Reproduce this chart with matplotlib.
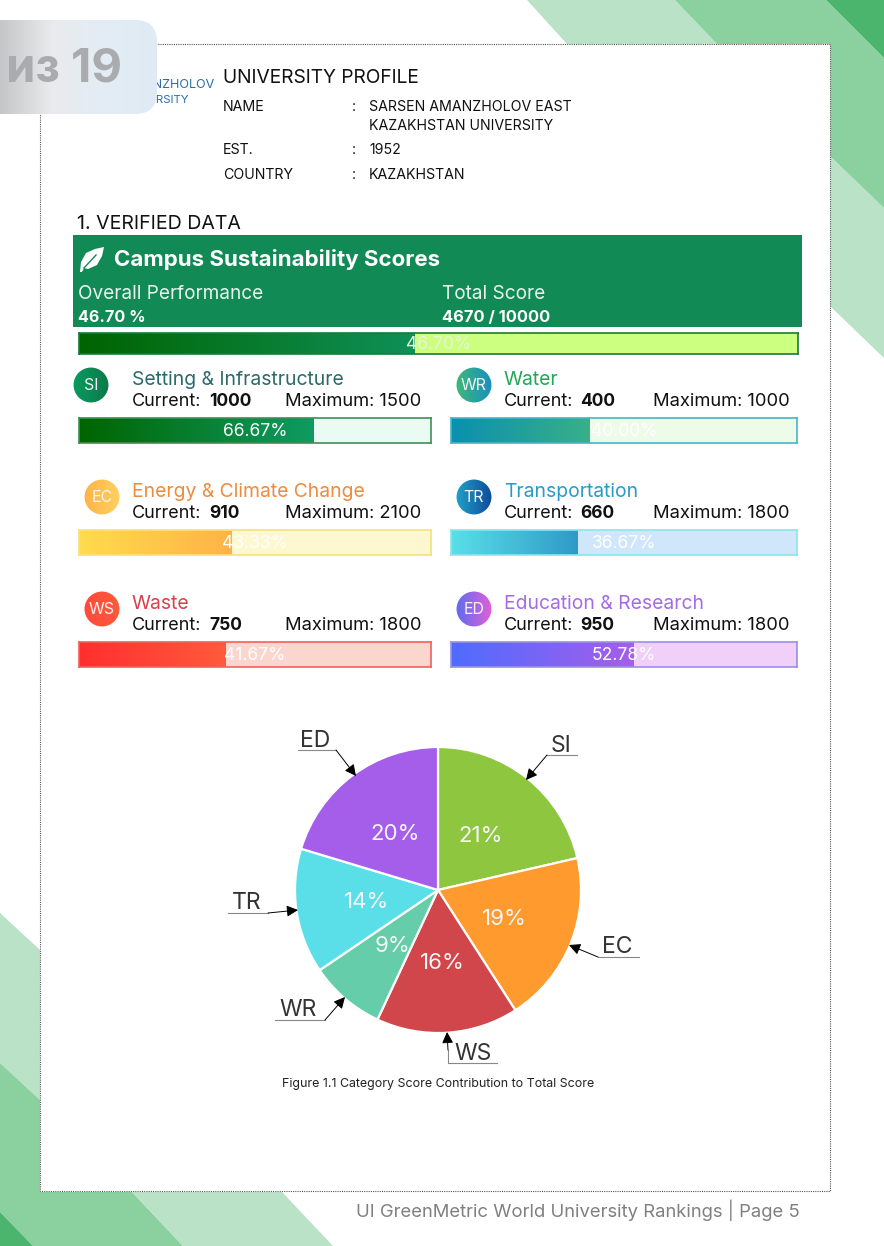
import numpy as np
import matplotlib
matplotlib.use("Agg")
import matplotlib.pyplot as plt
from matplotlib.colors import LinearSegmentedColormap
from matplotlib.patches import Circle, FancyBboxPatch, Polygon, Rectangle

# scores per category
codes = ["SI", "WR", "EC", "TR", "WS", "ED"]
names = ["Setting & Infrastructure", "Water", "Energy & Climate Change",
         "Transportation", "Waste", "Education & Research"]
current = [1000, 400, 910, 660, 750, 950]
maximum = [1500, 1000, 2100, 1800, 1800, 1800]
percents = ["66.67%", "40.00%", "43.33%", "36.67%", "41.67%", "52.78%"]

# pie, clockwise from the top
pie_labels = ["SI", "EC", "WS", "WR", "TR", "ED"]
pie_values = [1000, 910, 750, 400, 660, 950]
pie_percents = ["21%", "19%", "16%", "9%", "14%", "20%"]
pie_colors = ["#8ec63f", "#ff9a2f", "#d0464a", "#66cdaa", "#5adfe8", "#a55eea"]

overall_current = 4670
overall_max = 10000

W, H = 884, 1246
plt.rcParams["font.family"] = ["Inter", "DejaVu Sans"]
fig = plt.figure(figsize=(W / 100, H / 100), dpi=100)
bg = fig.add_axes([0, 0, 1, 1])
bg.set_xlim(0, W)
bg.set_ylim(H, 0)
bg.axis("off")
bg.set_zorder(-1)


def txt(x, y, s, size, color="#111111", weight="normal", ha="left", zorder=5):
    bg.text(x, y + 2, s, fontsize=size * 0.72, color=color, weight=weight, ha=ha, va="center", zorder=zorder)


def bar_axes(x, y, w, h):
    return fig.add_axes([x / W, 1 - (y + h) / H, w / W, h / H])


def draw_bar(x, y, w, h, val, top, c1, c2, back, edge, label, label_color="white"):
    ax = bar_axes(x, y, w, h)
    ax.set_xlim(0, top)
    ax.set_ylim(0, 1)
    ax.set_xticks([])
    ax.set_yticks([])
    ax.set_facecolor(back)
    for s in ax.spines.values():
        s.set_color(edge)
        s.set_linewidth(1.2)
    cmap = LinearSegmentedColormap.from_list("g", [c1, c2])
    ax.imshow(np.linspace(0, 1, 256).reshape(1, -1), cmap=cmap, extent=(0, val, 0, 1), aspect="auto")
    ax.set_xlim(0, top)
    ax.set_ylim(0, 1)
    ax.text(0.5, 0.47, label, transform=ax.transAxes, color=label_color, ha="center", va="center", fontsize=12.6)


# green corner shapes
light = "#b9e2c6"
mid = "#8bd09f"
dark = "#4bb56e"
shapes = [
    ([(527, 0), (675, 0), (717, 44), (567, 44)], light),
    ([(830, 156), (884, 208), (884, 358), (830, 306)], light),
    ([(675, 0), (826, 0), (884, 58), (884, 208), (830, 156), (830, 44), (717, 44)], mid),
    ([(826, 0), (884, 0), (884, 58)], dark),
    ([(0, 913), (40, 950), (40, 1100), (0, 1063)], light),
    ([(0, 1063), (40, 1100), (40, 1192), (132, 1192), (183, 1246), (33, 1246), (0, 1212)], mid),
    ([(0, 1212), (33, 1246), (0, 1246)], dark),
    ([(132, 1192), (282, 1192), (333, 1246), (183, 1246)], light),
]
for pts, col in shapes:
    bg.add_patch(Polygon(pts, closed=True, facecolor=col, edgecolor="none", zorder=1))

# page with dotted border
bg.add_patch(Rectangle((40, 44), 790, 1147, facecolor="white", edgecolor="#555555", lw=0.8, ls=(0, (1, 1)), zorder=2))

# profile block
txt(215, 83, "ANZHOLOV", 12.5, "#2b6ea8", ha="right", zorder=3)
txt(189, 98, "UNIVERSITY", 11.5, "#2b6ea8", ha="right", zorder=3)
txt(223, 76, "UNIVERSITY PROFILE", 19.2)
txt(223, 105, "NAME", 14.2)
txt(352, 105, ":", 14.2)
txt(369, 105, "SARSEN AMANZHOLOV EAST", 14.2)
txt(369, 124, "KAZAKHSTAN UNIVERSITY", 14.2)
txt(223, 148, "EST.", 14.2)
txt(352, 148, ":", 14.2)
txt(369, 148, "1952", 14.2)
txt(223, 173, "COUNTRY", 14.2)
txt(352, 173, ":", 14.2)
txt(369, 173, "KAZAKHSTAN", 14.2)

# overlay badge
badge = bar_axes(0, 20, 157, 94)
badge.axis("off")
badge.set_xlim(0, 157)
badge.set_ylim(94, 0)
shape = FancyBboxPatch((-30, 0), 187, 94, boxstyle="round,pad=0,rounding_size=22", facecolor="none", edgecolor="none")
badge.add_patch(shape)
gcmap = LinearSegmentedColormap.from_list("badge", ["#c4c6c8", "#e9ebed", "#e3edf5", "#dfeaf4"])
im = badge.imshow(np.linspace(0, 1, 256).reshape(1, -1), cmap=gcmap, extent=(0, 157, 94, 0), aspect="auto")
im.set_clip_path(shape)
badge.text(6, 49, "из 19", fontsize=34, color="#a9abae", weight="bold", va="center")

# header
txt(77, 222, "1. VERIFIED DATA", 19.5)
bg.add_patch(Rectangle((73, 235), 729, 92, facecolor="#118a55", edgecolor="none", zorder=3))
leaf = [(80, 272), (81, 262), (86, 253), (95, 249), (104, 247), (102, 256), (97, 265), (88, 269), (84, 268), (82, 272)]
bg.add_patch(Polygon(leaf, closed=True, facecolor="white", edgecolor="none", zorder=4))
bg.plot([84, 96], [268, 255], color="#118a55", lw=1, zorder=4)
txt(114, 258, "Campus Sustainability Scores", 22.3, "white", "bold")
txt(78, 292, "Overall Performance", 19, "#e8f5ec")
txt(78, 315, "46.70 %", 16.2, "white", "bold")
txt(442, 292, "Total Score", 19, "#e8f5ec")
txt(442, 315, "4670 / 10000", 16.5, "white", "bold")

draw_bar(79, 333, 719, 21, overall_current, overall_max, "#006400", "#0f9058", "#ccff80", "#1a7a3a", "46.70%", "#e8f5d0")

# category cards
xs = [79, 451]
ws = [352, 346]
ys = [418, 530, 642]
card_styles = [
    ("#006400", "#0f9b63", "#e9fbf2", "#3f8f55", "#2a6a6a", "#0b9a5f", "#0a7a4a"),
    ("#0a90b0", "#38b088", "#edfbe9", "#45b5c5", "#1fa855", "#3cb878", "#1a8fc0"),
    ("#ffdb4d", "#ffb347", "#fdf8cf", "#f5e27a", "#f08a3c", "#ffb347", "#ffd060"),
    ("#5adfe8", "#2f9ac8", "#d0e6fa", "#8ae5ea", "#2a9ac8", "#20a0c8", "#0f4c9a"),
    ("#ff2f2f", "#ff5a3c", "#fbd6ce", "#f06060", "#d8404a", "#ff4a3a", "#ff5a3c"),
    ("#4f6cff", "#a55eea", "#f0d0f8", "#9a90e8", "#a56ae8", "#5f6cf0", "#e060d8"),
]
for i in range(6):
    col, row = i % 2, i // 2
    x, y = xs[col], ys[row]
    c1, c2, back, edge, title_col, circ1, circ2 = card_styles[i]
    draw_bar(x, y, ws[col], 25, current[i], maximum[i], c1, c2, back, edge, percents[i])
    tx = x + 53
    txt(tx, y - 40, names[i], 19.3, title_col)
    txt(tx, y - 18, "Current:", 18)
    txt(tx + 77 if col == 0 else tx - 1 + 77, y - 18, str(current[i]), 17.5, weight="bold")
    txt(x + 206 if col == 0 else x + 202, y - 18, "Maximum: %d" % maximum[i], 18.4)
    cx = x + (12 if i == 0 else 23)
    ca = bar_axes(cx - 18, y - 51, 36, 36)
    ca.axis("off")
    ca.set_xlim(-1, 1)
    ca.set_ylim(-1, 1)
    circ = Circle((0, 0), 0.97, transform=ca.transData, facecolor="none", edgecolor="none")
    ca.add_patch(circ)
    gc = LinearSegmentedColormap.from_list("c", [circ1, circ2])
    img = ca.imshow(np.linspace(0, 1, 64).reshape(1, -1), cmap=gc, extent=(-1, 1, -1, 1), aspect="auto")
    img.set_clip_path(circ)
    ca.text(0, -0.05, codes[i], color="#f4f4f4", ha="center", va="center", fontsize=11.5)

# pie
r = 143
cx, cy = 438, 890
pie_ax = bar_axes(cx - r, cy - r, 2 * r, 2 * r)
pie_ax.pie(pie_values, colors=pie_colors, startangle=90, counterclock=False, radius=1,
           wedgeprops={"edgecolor": "white", "linewidth": 1.6})
pie_ax.set_xlim(-1, 1)
pie_ax.set_ylim(-1, 1)

# percent labels and callouts sit over the pie
over = fig.add_axes([0, 0, 1, 1], facecolor="none")
over.set_xlim(0, W)
over.set_ylim(H, 0)
over.axis("off")
pct_xy = [(481, 836), (504, 919), (442, 963), (392, 946), (367, 902), (395, 834)]
for (px, py), s in zip(pct_xy, pie_percents):
    over.text(px, py, s, color="#f6f6f6", fontsize=16, ha="center", va="center")

callouts = [
    ((561, 746), (526, 780), [(577, 755), (547, 755)]),
    ((617, 947), (569, 945), [(639, 957), (598, 957)]),
    ((473, 1054), (447, 1032), [(497, 1063), (448, 1063), (448, 1050)]),
    ((298, 1010), (345, 997), [(275, 1020), (325, 1020)]),
    ((247, 903), (298, 910), [(228, 913), (268, 913)]),
    ((315, 741), (356, 776), [(298, 750), (336, 750)]),
]
for label, (tpos, tip, path) in zip(pie_labels, callouts):
    over.text(tpos[0], tpos[1], label, fontsize=16.5, color="#333333", ha="center", va="center")
    xp = [p[0] for p in path]
    yp = [p[1] for p in path]
    over.plot(xp, yp, color="#888888", lw=0.8)
    over.annotate("", xy=tip, xytext=path[-1],
                  arrowprops=dict(arrowstyle="-|>", color="black", lw=0.7, mutation_scale=17, shrinkA=0, shrinkB=0))

over.text(438, 1084, "Figure 1.1 Category Score Contribution to Total Score", fontsize=8.95, color="#222222", ha="center", va="center")
over.text(578, 1210, "UI GreenMetric World University Rankings | Page 5", fontsize=13.3, color="#808080", ha="center", va="center")

fig.savefig("out.png", dpi=100)
